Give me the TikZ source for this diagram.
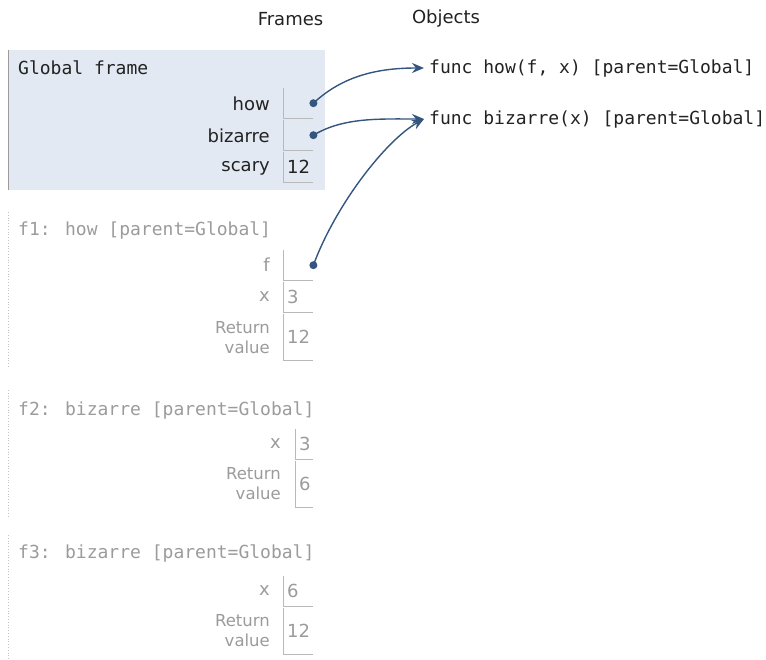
\documentclass[tikz,border=0pt]{standalone}
\usepackage{fontspec}
\setmainfont{DejaVu Sans}
\newfontfamily\codefont{DejaVu Sans Mono}
\usetikzlibrary{positioning,arrows.meta}
\definecolor{framebg}{RGB}{226,233,243}
\definecolor{ptrblue}{RGB}{52,85,125}
\definecolor{inkdark}{RGB}{34,34,34}
\definecolor{oldgray}{RGB}{155,155,155}
\definecolor{cellgray}{RGB}{185,185,185}

\tikzset{
  txt/.style={inner sep=0pt,font=\fontsize{18}{20}\selectfont},
  code/.style={inner sep=0pt,font=\codefont\fontsize{18}{20}\selectfont,anchor=west},
  varname/.style={txt,anchor=east},
  retname/.style={inner sep=0pt,anchor=east,align=right,font=\fontsize{16.5}{20}\selectfont},
  cell/.style={txt,anchor=north west,inner xsep=4pt,inner ysep=0pt,text width=22pt,align=left,minimum height=30pt},
  smallcell/.style={cell,text width=10pt},
  cellline/.style={draw=cellgray,line width=0.9pt},
  dot/.style={circle,fill=ptrblue,inner sep=0pt,minimum size=8pt},
  ptr/.style={draw=ptrblue,line width=1.4pt,-{Stealth[length=12pt,width=10pt,inset=4pt]}},
  oldframe/.style={draw=oldgray!60,line width=0.8pt,dotted}
}

\begin{document}
\begin{tikzpicture}[x=1pt,y=-1pt]
\useasboundingbox (0,0) rectangle (766,660);

% headers
\node[txt,text=inkdark] (hframes) at (290.5,19) {Frames};
\node[txt,text=inkdark] (hobjects) at (446,19) {Objects};

% global frame
\fill[framebg] (8,50) rectangle (325,190);
\draw[draw=oldgray,line width=0.9pt] (8,50) -- (8,190);
\node[code,text=inkdark] (gtitle) at (18,68) {Global frame};
\node[varname,text=inkdark] (ghow) at (270,104) {how};
\node[varname,text=inkdark] (gbiz) at (270,136) {bizarre};
\node[varname,text=inkdark] (gscary) at (270,168) {scary};
\node[cell] (chow) at (283,88) {};
\node[cell] (cbiz) at (283,120) {};
\node[cell,text=inkdark] (cscary) at (283,152) {12};
\foreach \c in {chow,cbiz,cscary}
  \draw[cellline] (\c.north west) |- (\c.south east);

% objects
\node[code,text=inkdark,inner xsep=5pt] (ohow) at (424,68) {func how(f, x) [parent=Global]};
\node[code,text=inkdark,inner xsep=5pt] (obiz) at (424,119) {func bizarre(x) [parent=Global]};

% f1
\draw[oldframe] (8,212) -- (8,368);
\node[code,text=oldgray] (f1title) at (18,230) {f1: how [parent=Global]};
\node[varname,text=oldgray] (f1f) at (270,265) {f};
\node[varname,text=oldgray] (f1x) at (270,297) {x};
\node[retname,text=oldgray] (f1ret) at (270,338) {Return\\value};
\node[cell] (c1f) at (283,250) {};
\node[cell,text=oldgray] (c1x) at (283,282) {3};
\node[cell,text=oldgray,minimum height=46pt] (c1ret) at (283,314) {12};
\foreach \c in {c1f,c1x,c1ret}
  \draw[cellline] (\c.north west) |- (\c.south east);

% f2
\draw[oldframe] (8,390) -- (8,518);
\node[code,text=oldgray] (f2title) at (18,410) {f2: bizarre [parent=Global]};
\node[varname,text=oldgray] (f2x) at (281,444) {x};
\node[retname,text=oldgray] (f2ret) at (281,484) {Return\\value};
\node[smallcell,text=oldgray] (c2x) at (295,429) {3};
\node[smallcell,text=oldgray,minimum height=46pt] (c2ret) at (295,461) {6};
\foreach \c in {c2x,c2ret}
  \draw[cellline] (\c.north west) |- (\c.south east);

% f3
\draw[oldframe] (8,535) -- (8,660);
\node[code,text=oldgray] (f3title) at (18,553) {f3: bizarre [parent=Global]};
\node[varname,text=oldgray] (f3x) at (270,591) {x};
\node[retname,text=oldgray] (f3ret) at (270,631) {Return\\value};
\node[cell,text=oldgray] (c3x) at (283,576) {6};
\node[cell,text=oldgray,minimum height=46pt] (c3ret) at (283,608) {12};
\foreach \c in {c3x,c3ret}
  \draw[cellline] (\c.north west) |- (\c.south east);

% pointers
\node[dot] (phow) at (chow.east) {};
\node[dot] (pbiz) at (cbiz.east) {};
\node[dot] (pf) at (c1f.east) {};
\draw[ptr] (phow.center) .. controls +(30,-28) and +(-45,0) .. (ohow.west);
\draw[ptr] (pbiz.center) .. controls +(30,-18) and +(-45,0) .. (obiz.west);
\draw[ptr] (pf.center) .. controls +(22,-60) and +(-38,21) .. (obiz.west);
\end{tikzpicture}
\end{document}
